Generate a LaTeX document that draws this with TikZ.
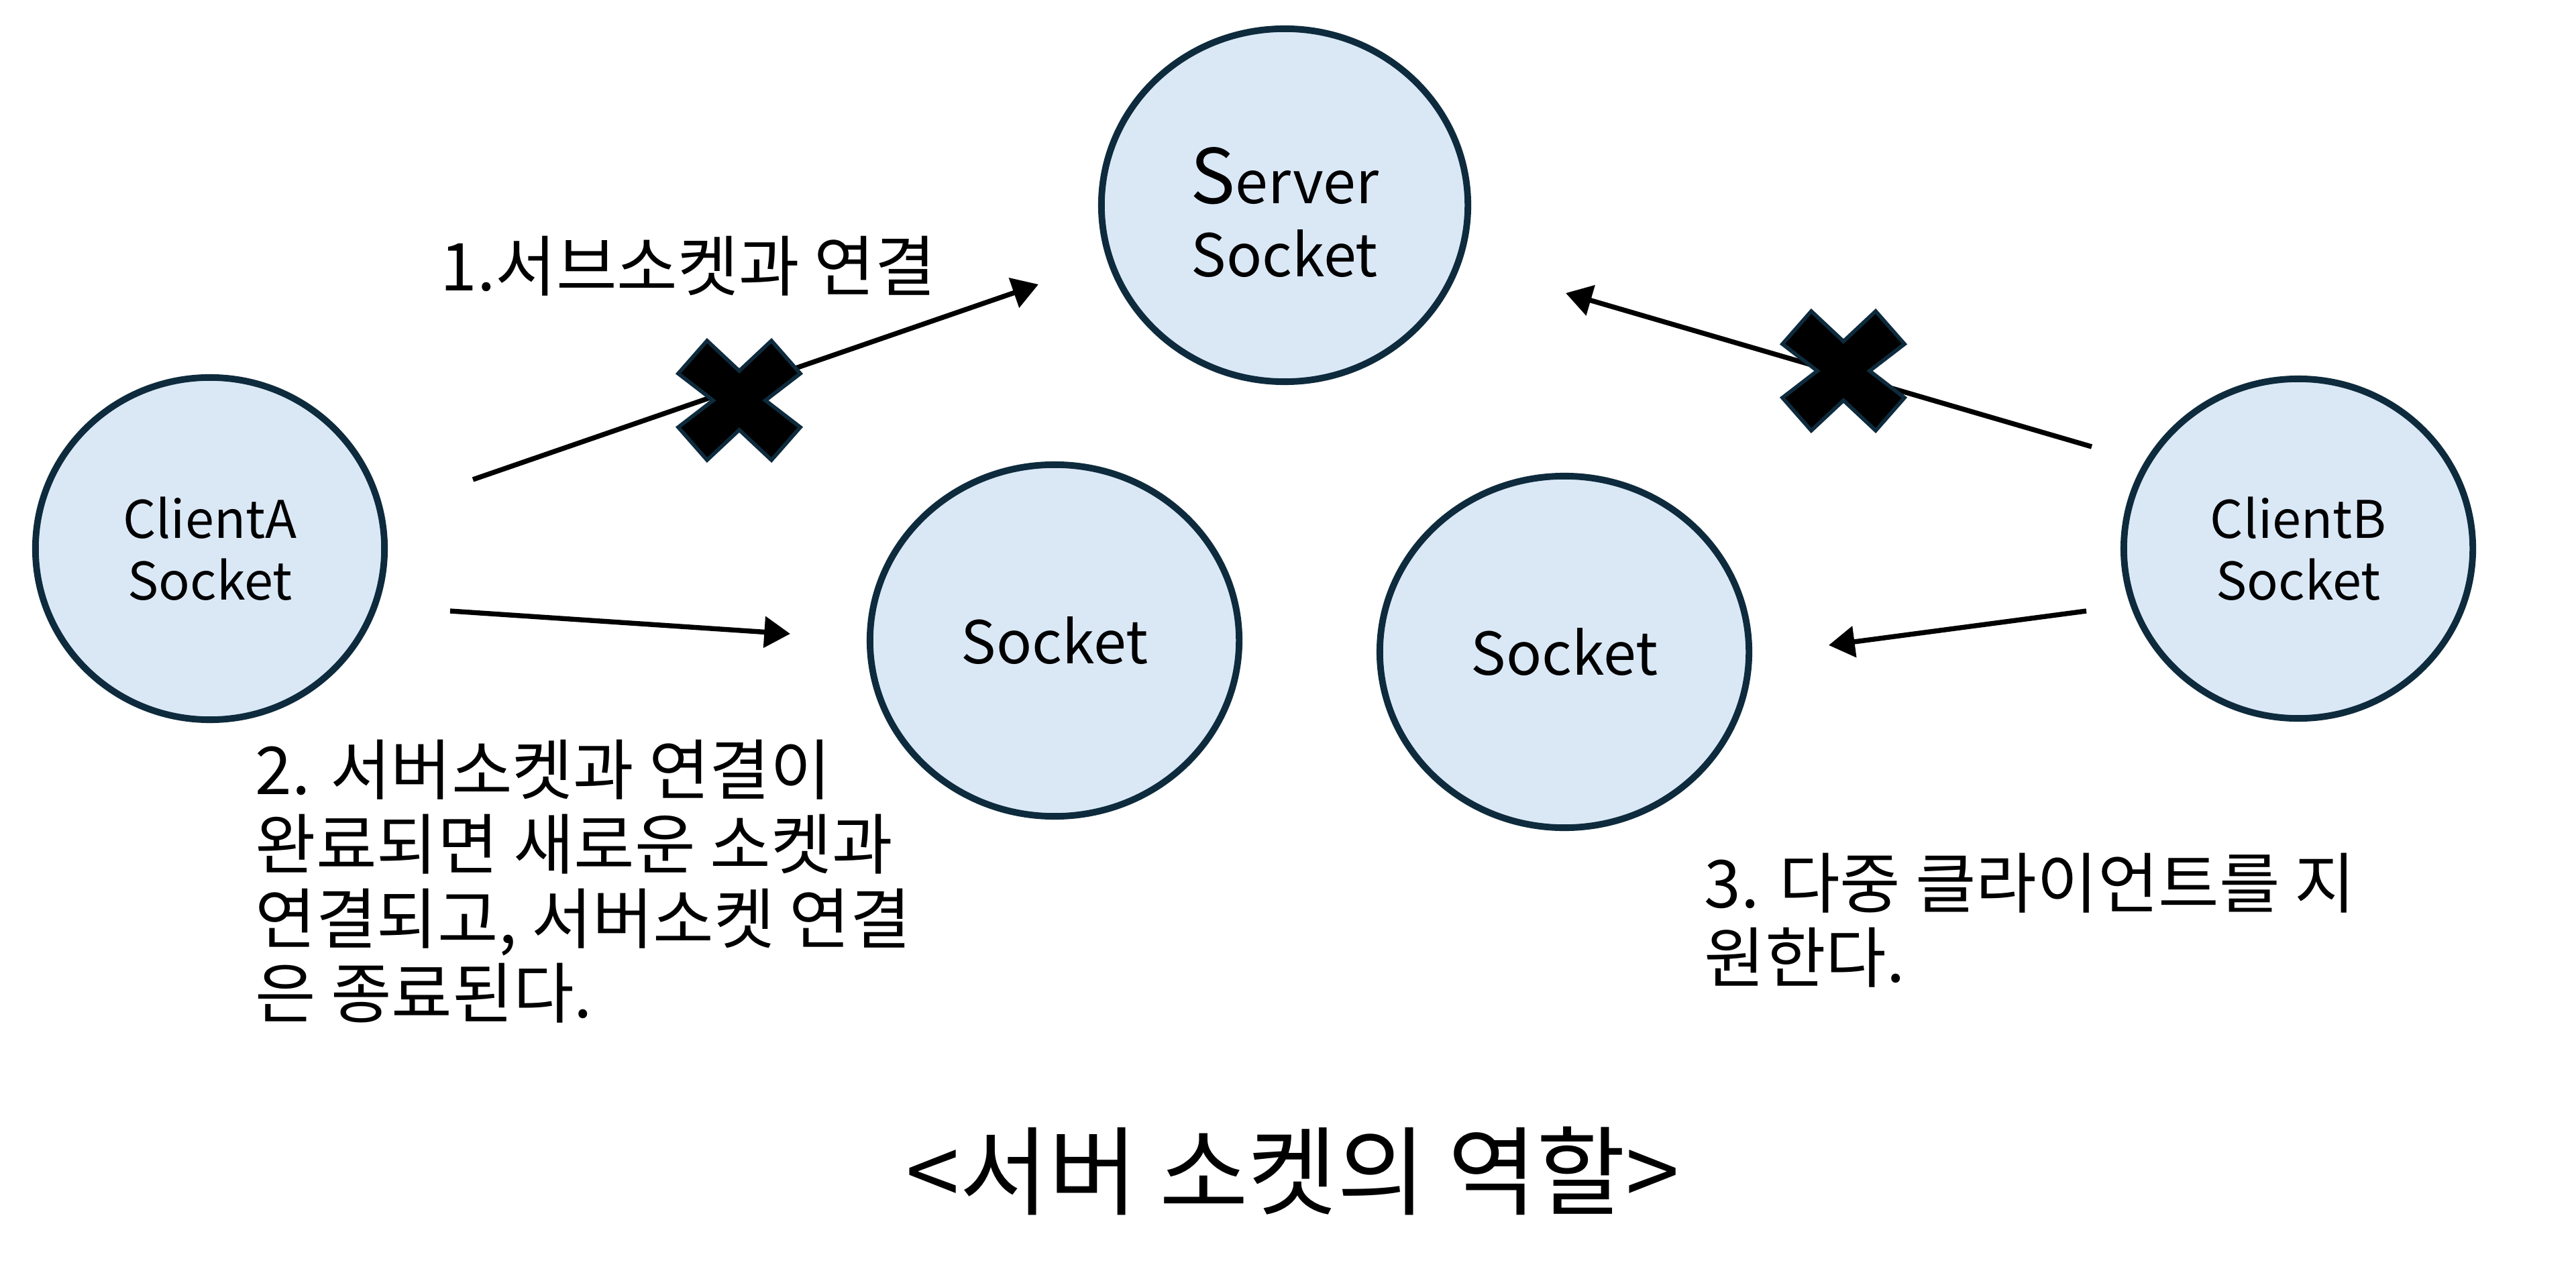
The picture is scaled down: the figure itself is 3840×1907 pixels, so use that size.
\documentclass[tikz,border=0pt]{standalone}
\usepackage{fontspec}
\setmainfont{Noto Sans CJK KR}
\usetikzlibrary{shapes.geometric,arrows.meta}
\definecolor{cfill}{HTML}{DAE8F6}
\definecolor{cline}{HTML}{0E2B3D}
\tikzset{
  sock/.style={ellipse, draw=cline, fill=cfill, line width=2.8pt, inner sep=0pt, align=center, text=black},
  conn/.style={line width=2.1pt, -{Triangle[length=11pt,width=13pt]}},
  note/.style={font=\fontsize{28}{31.6}\selectfont, align=left, inner sep=0pt, anchor=west},
  crossmark/.style={fill=black, draw=cline, line width=1.6pt, line join=miter}
}
\newcommand{\xmark}[1]{%
  \filldraw[crossmark, shift={#1}]
   (-48,-89) -- (0,-44) -- (48,-89) -- (91,-40) -- (39,0) -- (91,40) -- (48,89) -- (0,44) -- (-48,89) -- (-91,40) -- (-39,0) -- (-91,-40) -- cycle;}
\begin{document}
\begin{tikzpicture}[x=0.01cm, y=-0.01cm]
\useasboundingbox (0,0) rectangle (3840,1907);
\fill[white] (0,0) rectangle (3840,1907);

\node[sock, minimum width=5.46cm, minimum height=5.26cm, font=\fontsize{25}{31}\selectfont] (server) at (1915,306)
  {\rule{0pt}{30pt}{\fontsize{32}{31}\selectfont S}erver\\Socket};
\node[sock, minimum width=5.2cm, minimum height=5.1cm, font=\fontsize{22}{26}\selectfont] (clientA) at (313,818) {ClientA\\Socket};
\node[sock, minimum width=5.5cm, minimum height=5.24cm, font=\fontsize{25}{31}\selectfont] (sockL) at (1572,955) {Socket};
\node[sock, minimum width=5.5cm, minimum height=5.24cm, font=\fontsize{25}{31}\selectfont] (sockR) at (2332,972) {Socket};
\node[sock, minimum width=5.2cm, minimum height=5.06cm, font=\fontsize{22}{26}\selectfont] (clientB) at (3426,818) {ClientB\\Socket};

\coordinate (a1s) at (705,715);
\coordinate (a1e) at (1548,424);
\coordinate (a2s) at (671,911);
\coordinate (a2e) at (1178,945);
\coordinate (a3s) at (3118,666);
\coordinate (a3e) at (2334,437);
\coordinate (a4s) at (3110,911);
\coordinate (a4e) at (2726,962);

\draw[conn] (a1s) -- (a1e);
\draw[conn] (a2s) -- (a2e);
\draw[conn] (a3s) -- (a3e);
\draw[conn] (a4s) -- (a4e);

\xmark{(1102,597)}
\xmark{(2748,553)}

\node[note] (t1) at (656,397) {1.서브소켓과 연결};
\node[note] (t2) at (380,1314) {2. 서버소켓과 연결이\\완료되면 새로운 소켓과\\연결되고, 서버소켓 연결\\은 종료된다.};
\node[note] (t3) at (2540,1372) {3. 다중 클라이언트를 지\\원한다.};
\node[font=\fontsize{41}{48}\selectfont, inner sep=0pt] (title) at (1927,1746) {<서버 소켓의 역할>};
\end{tikzpicture}
\end{document}
